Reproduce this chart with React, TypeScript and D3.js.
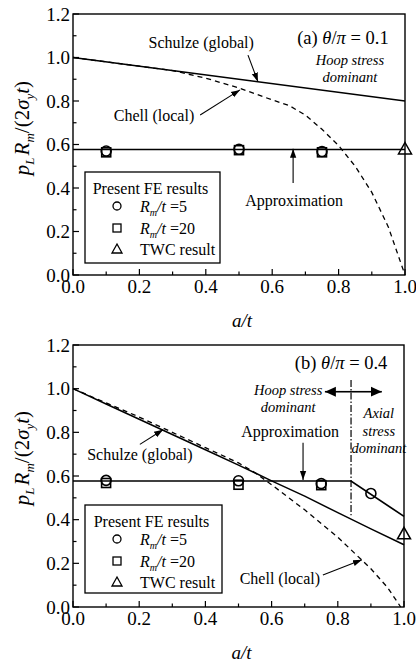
import * as d3 from 'd3';

// ---- data ----
const yTicks = [0, 0.2, 0.4, 0.6, 0.8, 1.0, 1.2];
const xTicks = [0, 0.2, 0.4, 0.6, 0.8, 1.0];

// panel (a) theta/pi = 0.1
const aSchulzeX = [0, 1.0];
const aSchulzeY = [1.0, 0.8];
const aChellX = [0, 0.1, 0.2, 0.3, 0.4, 0.5, 0.6, 0.65, 0.7, 0.75, 0.8, 0.85, 0.9, 0.95, 1.0];
const aChellY = [1.0, 0.98, 0.96, 0.94, 0.905, 0.86, 0.805, 0.78, 0.735, 0.67, 0.595, 0.5, 0.38, 0.22, 0.0];
const aApproxX = [0, 1.0];
const aApproxY = [0.577, 0.577];
const aCircleX = [0.1, 0.5, 0.75];
const aCircleY = [0.57, 0.578, 0.568];
const aSquareX = [0.1, 0.5, 0.75];
const aSquareY = [0.564, 0.574, 0.564];
const aTwcX = [1.0];
const aTwcY = [0.577];

// panel (b) theta/pi = 0.4
const bSchulzeX = [0, 0.1, 0.2, 0.3, 0.4, 0.5, 0.6, 0.7, 0.8, 0.9, 1.0];
const bSchulzeY = [1.0, 0.93, 0.86, 0.79, 0.72, 0.65, 0.578, 0.508, 0.432, 0.358, 0.285];
const bChellX = [0, 0.1, 0.2, 0.3, 0.4, 0.5, 0.55, 0.6, 0.7, 0.8, 0.9, 0.95, 0.99];
const bChellY = [1.0, 0.935, 0.87, 0.8, 0.73, 0.66, 0.615, 0.56, 0.445, 0.32, 0.175, 0.09, 0.0];
const bApproxX = [0, 0.84, 1.0];
const bApproxY = [0.577, 0.577, 0.415];
const bCircleX = [0.1, 0.5, 0.75, 0.9];
const bCircleY = [0.58, 0.578, 0.565, 0.52];
const bSquareX = [0.1, 0.5, 0.75];
const bSquareY = [0.568, 0.56, 0.558];
const bTwcX = [1.0];
const bTwcY = [0.333];
const bBoundary = 0.84;

const FONT = "'Times New Roman', 'Liberation Serif', 'DejaVu Serif', serif";

type Ann = { text: string; a: number; v: number; italic?: boolean; size?: number };
type Arrow = { a1: number; v1: number; a2: number; v2: number };

type PanelProps = {
  top: number;
  bottom: number;
  left: number;
  right: number;
  schulze: [number[], number[]];
  chell: [number[], number[]];
  approx: [number[], number[]];
  circles: [number[], number[]];
  squares: [number[], number[]];
  twc: [number[], number[]];
  title: { prefix: string; value: string; a: number; v: number };
  labels: Ann[];
  arrows: Arrow[];
  legend: { x: number; y: number; w: number; h: number };
  ylabelY: number;
  boundary?: number;
  doubleArrowV?: number;
  doubleArrowA?: [number, number];
  id: string;
};

function Panel(p: PanelProps) {
  const x = d3.scaleLinear().domain([0, 1]).range([p.left, p.right]);
  const y = d3.scaleLinear().domain([0, 1.2]).range([p.bottom, p.top]);
  const line = d3.line<[number, number]>().x(d => x(d[0])).y(d => y(d[1]));
  const pts = (s: [number[], number[]]) => s[0].map((a, i) => [a, s[1][i]] as [number, number]);
  const minorY = d3.range(0, 1.2001, 0.1);
  const minorX = d3.range(0, 1.0001, 0.1);
  const lg = p.legend;
  const ts = { fontFamily: FONT };

  return (
    <g style={ts}>
      {/* frame */}
      <rect x={p.left} y={p.top} width={p.right - p.left} height={p.bottom - p.top}
        fill="none" stroke="#000" strokeWidth={1.4} />
      {/* ticks */}
      {minorY.map((t, i) => (
        <line key={'my' + i} x1={p.left} x2={p.left + (i % 2 === 0 ? 6 : 3.5)} y1={y(t)} y2={y(t)} stroke="#000" strokeWidth={1.2} />
      ))}
      {minorX.map((t, i) => (
        <line key={'mx' + i} x1={x(t)} x2={x(t)} y1={p.bottom} y2={p.bottom - (i % 2 === 0 ? 6 : 3.5)} stroke="#000" strokeWidth={1.2} />
      ))}
      {yTicks.map(t => (
        <text key={'yt' + t} x={p.left - 3} y={y(t)} dy="0.35em" textAnchor="end" fontSize={19}>
          {t.toFixed(1)}
        </text>
      ))}
      {xTicks.map(t => (
        <text key={'xt' + t} x={x(t)} y={p.bottom + 18} textAnchor="middle" fontSize={19}>
          {t.toFixed(1)}
        </text>
      ))}
      <text x={(p.left + p.right) / 2 + 3} y={p.bottom + 52} textAnchor="middle" fontSize={19} fontStyle="italic">
        a/t
      </text>
      {/* y label */}
      <text transform={`translate(29,${p.ylabelY}) rotate(-90)`} textAnchor="middle" fontSize={21}>
        <tspan fontStyle="italic">p</tspan>
        <tspan fontStyle="italic" fontSize={13} dy={5}>L</tspan>
        <tspan fontStyle="italic" dy={-5} dx={2}>R</tspan>
        <tspan fontStyle="italic" fontSize={13} dy={5}>m</tspan>
        <tspan dy={-5}>/(2</tspan>
        <tspan fontStyle="italic">σ</tspan>
        <tspan fontStyle="italic" fontSize={13} dy={5}>y</tspan>
        <tspan fontStyle="italic" dy={-5}>t</tspan>
        <tspan>)</tspan>
      </text>

      {/* curves */}
      <path d={line(pts(p.schulze)) || ''} fill="none" stroke="#000" strokeWidth={1.5} />
      <path d={line(pts(p.chell)) || ''} fill="none" stroke="#000" strokeWidth={1.3} strokeDasharray="5,4" />
      <path d={line(pts(p.approx)) || ''} fill="none" stroke="#000" strokeWidth={1.7} />
      {p.boundary !== undefined && (
        <line x1={x(p.boundary)} x2={x(p.boundary)} y1={y(1.04)} y2={y(0.42)} stroke="#000" strokeWidth={1.2} strokeDasharray="7,2,1.5,2" />
      )}
      {p.doubleArrowV !== undefined && p.doubleArrowA && p.boundary !== undefined && (
        <g>
          <line x1={x(p.boundary)} x2={x(p.doubleArrowA[0])} y1={y(p.doubleArrowV)} y2={y(p.doubleArrowV)} stroke="#000" strokeWidth={1.6} markerEnd={`url(#big-${p.id})`} />
          <line x1={x(p.boundary)} x2={x(p.doubleArrowA[1])} y1={y(p.doubleArrowV)} y2={y(p.doubleArrowV)} stroke="#000" strokeWidth={1.6} markerEnd={`url(#big-${p.id})`} />
        </g>
      )}

      {/* FE markers */}
      {pts(p.squares).map((d, i) => (
        <rect key={'sq' + i} x={x(d[0]) - 4.5} y={y(d[1]) - 4.5} width={9} height={9} fill="none" stroke="#000" strokeWidth={1.6} />
      ))}
      {pts(p.circles).map((d, i) => (
        <circle key={'ci' + i} cx={x(d[0])} cy={y(d[1])} r={5} fill="none" stroke="#000" strokeWidth={1.6} />
      ))}
      {pts(p.twc).map((d, i) => {
        const cx = x(d[0]);
        const cy = y(d[1]);
        return (
          <path key={'tw' + i} d={`M${cx},${cy - 7}L${cx + 6.5},${cy + 4.5}L${cx - 6.5},${cy + 4.5}Z`} fill="none" stroke="#000" strokeWidth={1.5} />
        );
      })}

      {/* arrows */}
      {p.arrows.map((ar, i) => (
        <line key={'ar' + i} x1={x(ar.a1)} y1={y(ar.v1)} x2={x(ar.a2)} y2={y(ar.v2)} stroke="#000" strokeWidth={1.1} markerEnd={`url(#arr-${p.id})`} />
      ))}

      {/* labels */}
      <text x={x(p.title.a)} y={y(p.title.v)} dy="0.35em" textAnchor="middle" fontSize={18.5}>
        {p.title.prefix}{' '}<tspan fontStyle="italic">θ</tspan>/<tspan fontStyle="italic">π</tspan>{' = ' + p.title.value}
      </text>
      {p.labels.map((l, i) => (
        <text key={'lb' + i} x={x(l.a)} y={y(l.v)} dy="0.35em" textAnchor="middle" fontSize={l.size || 16}
          fontStyle={l.italic ? 'italic' : 'normal'}>
          {l.text}
        </text>
      ))}

      {/* legend */}
      <rect x={lg.x} y={lg.y} width={lg.w} height={lg.h} fill="#fff" stroke="#000" strokeWidth={1.3} />
      <text x={lg.x + lg.w / 2 - 2} y={lg.y + 16} dy="0.35em" textAnchor="middle" fontSize={16}>Present FE results</text>
      <circle cx={lg.x + 32} cy={lg.y + 34} r={4} fill="none" stroke="#000" strokeWidth={1.3} />
      <text x={lg.x + 55} y={lg.y + 34} dy="0.35em" fontSize={16}>
        <tspan fontStyle="italic">R</tspan><tspan fontStyle="italic" fontSize={10} dy={4}>m</tspan><tspan dy={-4} fontStyle="italic">/t</tspan> =5
      </text>
      <rect x={lg.x + 28} y={lg.y + 52} width={8} height={8} fill="none" stroke="#000" strokeWidth={1.3} />
      <text x={lg.x + 55} y={lg.y + 56} dy="0.35em" fontSize={16}>
        <tspan fontStyle="italic">R</tspan><tspan fontStyle="italic" fontSize={10} dy={4}>m</tspan><tspan dy={-4} fontStyle="italic">/t</tspan> =20
      </text>
      <path d={`M${lg.x + 32},${lg.y + 72}L${lg.x + 37},${lg.y + 81}L${lg.x + 27},${lg.y + 81}Z`} fill="none" stroke="#000" strokeWidth={1.3} />
      <text x={lg.x + 55} y={lg.y + 77} dy="0.35em" fontSize={16}>TWC result</text>
    </g>
  );
}

export default function App() {
  return (
    <svg width={416} height={664} style={{ position: 'absolute', left: 0, top: 0, background: '#fff' }}>
      <defs>
        {['a', 'b'].map(id => (
          <g key={id}>
            <marker id={`arr-${id}`} viewBox="0 0 10 10" refX={10} refY={5} markerWidth={9} markerHeight={9} markerUnits="userSpaceOnUse" orient="auto">
              <path d="M0,1.5L10,5L0,8.5Z" fill="#000" />
            </marker>
            <marker id={`big-${id}`} viewBox="0 0 10 10" refX={10} refY={5} markerWidth={11} markerHeight={11} markerUnits="userSpaceOnUse" orient="auto">
              <path d="M0,0.5L10,5L0,9.5Z" fill="#000" />
            </marker>
          </g>
        ))}
      </defs>
      <Panel
        id="a"
        top={14} bottom={275} left={73} right={405}
        schulze={[aSchulzeX, aSchulzeY]}
        chell={[aChellX, aChellY]}
        approx={[aApproxX, aApproxY]}
        circles={[aCircleX, aCircleY]}
        squares={[aSquareX, aSquareY]}
        twc={[aTwcX, aTwcY]}
        title={{ prefix: '(a)', value: '0.1', a: 0.813, v: 1.094 }}
        labels={[
          { text: 'Schulze (global)', a: 0.386, v: 1.071 },
          { text: 'Chell (local)', a: 0.244, v: 0.736 },
          { text: 'Hoop stress', a: 0.834, v: 0.989, italic: true, size: 14.5 },
          { text: 'dominant', a: 0.834, v: 0.91, italic: true, size: 14.5 },
          { text: 'Approximation', a: 0.666, v: 0.345 },
        ]}
        arrows={[
          { a1: 0.527, v1: 1.011, a2: 0.557, v2: 0.889 },
          { a1: 0.383, v1: 0.736, a2: 0.503, v2: 0.851 },
          { a1: 0.663, v1: 0.423, a2: 0.663, v2: 0.58 },
        ]}
        legend={{ x: 85, y: 172, w: 135, h: 91 }}
        ylabelY={128}
      />
      <Panel
        id="b"
        top={345} bottom={607} left={73} right={404}
        schulze={[bSchulzeX, bSchulzeY]}
        chell={[bChellX, bChellY]}
        approx={[bApproxX, bApproxY]}
        circles={[bCircleX, bCircleY]}
        squares={[bSquareX, bSquareY]}
        twc={[bTwcX, bTwcY]}
        title={{ prefix: '(b)', value: '0.4', a: 0.81, v: 1.119 }}
        labels={[
          { text: 'Hoop stress', a: 0.65, v: 0.995, italic: true, size: 14.5 },
          { text: 'dominant', a: 0.65, v: 0.917, italic: true, size: 14.5 },
          { text: 'Axial', a: 0.924, v: 0.89, italic: true, size: 14.5 },
          { text: 'stress', a: 0.924, v: 0.807, italic: true, size: 14.5 },
          { text: 'dominant', a: 0.924, v: 0.729, italic: true, size: 14.5 },
          { text: 'Approximation', a: 0.656, v: 0.803 },
          { text: 'Schulze (global)', a: 0.202, v: 0.697 },
          { text: 'Chell (local)', a: 0.625, v: 0.133 },
        ]}
        arrows={[
          { a1: 0.695, v1: 0.752, a2: 0.695, v2: 0.582 },
          { a1: 0.202, v1: 0.745, a2: 0.272, v2: 0.812 },
          { a1: 0.755, v1: 0.147, a2: 0.873, v2: 0.216 },
        ]}
        legend={{ x: 85, y: 505, w: 137, h: 88 }}
        ylabelY={458}
        boundary={bBoundary}
        doubleArrowV={0.986}
        doubleArrowA={[0.761, 0.933]}
      />
    </svg>
  );
}
